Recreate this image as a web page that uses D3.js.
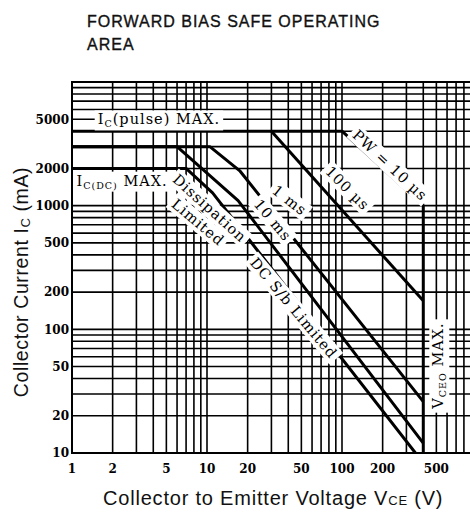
<!DOCTYPE html>
<html><head><meta charset="utf-8">
<script src="https://cdn.jsdelivr.net/npm/d3@7"></script>
<style>body{margin:0;background:#fff} svg{display:block}</style>
</head><body>
<svg id="c" width="470" height="512"></svg>
<script>
// ---- data (V in volts, I in mA) ----
const xTickLabels = [1,2,5,10,20,50,100,200,500];
const yTickLabels = [10,20,50,100,200,500,1000,2000,5000];
const curvePW10us  = [[1,4000],[100,4000],[400,1000],[400,10]];
const curvePW100us = [[30,4000],[400,170]];
const curvePW1ms   = [[1,3000],[10.5,3000],[17.6,1900],[400,26]];
const curvePW10ms  = [[1,3000],[6,3000],[17,1100],[400,12]];
const curveDC      = [[1,2000],[7,2000],[11,1270],[350,10]];
const noteTexts = [
  [["I",0],["C",1],["(pulse)  MAX.",0]],
  [["I",0],["C(DC)",1],[" MAX.",0]],
  [["Dissipation",0]],
  [["Limited",0]],
  [["DC  S/b  Limited",0]],
  [["1  ms",0]],
  [["10  ms",0]],
  [["100  µs",0]],
  [["PW = 10  µs",0]],
  [["V",0],["CEO",1],["  MAX.",0]]
];
const noteV = [1.55, 1.08, 10.5, 8.6, 44, 41, 30.8, 110, 227, 515];
const noteI = [5000, 1600, 955, 736, 149, 1109, 765, 1387, 2128, 51];
const noteRot = [0, 0, 42, 40, 50, 38, 50, 45, 43, -90];

// ---- drawing ----
const svg = d3.select("#c");
const x = d3.scaleLog().domain([1,1000]).range([72,477]);
const y = d3.scaleLog().domain([10,10000]).range([453,82]);

svg.append("defs").append("clipPath").attr("id","pa")
  .append("rect").attr("x",72).attr("y",81).attr("width",405).attr("height",372);

// title
svg.append("text").attr("x",87).attr("y",27)
  .attr("font-family","Liberation Sans, Arial, sans-serif").attr("font-size",16)
  .attr("letter-spacing",1).attr("fill","#111").attr("stroke","#111").attr("stroke-width",0.35)
  .text("FORWARD BIAS SAFE OPERATING");
svg.append("text").attr("x",87).attr("y",50)
  .attr("font-family","Liberation Sans, Arial, sans-serif").attr("font-size",16)
  .attr("letter-spacing",1).attr("fill","#111").attr("stroke","#111").attr("stroke-width",0.35)
  .text("AREA");

const plot = svg.append("g").attr("clip-path","url(#pa)");

// grid
plot.append("g").selectAll("line").data(x.ticks()).join("line")
  .attr("x1",d=>x(d)).attr("x2",d=>x(d)).attr("y1",y(10)).attr("y2",y(10000))
  .attr("stroke","#000").attr("stroke-width",1.6);
plot.append("g").selectAll("line").data(y.ticks()).join("line")
  .attr("y1",d=>y(d)).attr("y2",d=>y(d)).attr("x1",x(1)).attr("x2",x(1000))
  .attr("stroke","#000").attr("stroke-width",1.6);

// curves
const line = d3.line().x(d=>x(d[0])).y(d=>y(d[1]));
const curves = [curvePW10us, curvePW100us, curvePW1ms, curvePW10ms, curveDC];
plot.append("g").selectAll("path").data(curves).join("path")
  .attr("d",line).attr("fill","none").attr("stroke","#000")
  .attr("stroke-width",3).attr("stroke-linejoin","round");

// annotations with knockout boxes
noteTexts.forEach((parts,k)=>{
  const g = plot.append("g")
    .attr("transform",`translate(${x(noteV[k])},${y(noteI[k])}) rotate(${noteRot[k]})`);
  const anchor = (k<2) ? "start" : "middle";
  const tx = g.append("text").attr("text-anchor",anchor).attr("dy","0.36em")
    .attr("font-family","DejaVu Serif, serif").attr("font-size",14.5)
    .attr("letter-spacing",1).attr("fill","#000");
  let shifted = false;
  parts.forEach(([s,sub])=>{
    const ts = tx.append("tspan").text(s);
    if (sub) { ts.attr("font-size",9.5).attr("dy",3); shifted = true; }
    else if (shifted) { ts.attr("dy",-3); shifted = false; }
  });
  const b = tx.node().getBBox();
  g.insert("rect","text").attr("x",b.x-3).attr("y",b.y-1)
    .attr("width",b.width+6).attr("height",b.height+2).attr("fill","#fff");
});

// frame
svg.append("line").attr("x1",x(1)).attr("x2",x(1)).attr("y1",y(10000)-1).attr("y2",y(10)+1)
  .attr("stroke","#000").attr("stroke-width",2);
svg.append("line").attr("x1",x(1)).attr("x2",x(1000)).attr("y1",y(10)).attr("y2",y(10))
  .attr("stroke","#000").attr("stroke-width",2);
svg.append("line").attr("x1",x(1)).attr("x2",x(1000)).attr("y1",y(10000)).attr("y2",y(10000))
  .attr("stroke","#000").attr("stroke-width",2);

// tick labels
svg.append("g").selectAll("text").data(yTickLabels).join("text")
  .attr("x",x(1)-3).attr("y",d=>y(d)).attr("dy","0.36em").attr("text-anchor","end")
  .attr("font-family","DejaVu Serif, serif").attr("font-weight","bold").attr("font-size",12)
  .text(d=>d);
svg.append("g").selectAll("text").data(xTickLabels).join("text")
  .attr("x",d=>x(d)).attr("y",473).attr("text-anchor","middle")
  .attr("font-family","DejaVu Serif, serif").attr("font-weight","bold").attr("font-size",12)
  .text(d=>d);

// axis titles
const xt = svg.append("text").attr("x",103).attr("y",505)
  .attr("font-family","Liberation Sans, Arial, sans-serif").attr("font-size",20)
  .attr("letter-spacing",0.8).attr("fill","#111");
xt.append("tspan").text("Collector to Emitter Voltage  V");
xt.append("tspan").attr("font-size",13).text("CE");
xt.append("tspan").text("  (V)");

const yt = svg.append("text").attr("transform","translate(28,282) rotate(-90)")
  .attr("text-anchor","middle")
  .attr("font-family","Liberation Sans, Arial, sans-serif").attr("font-size",19.5)
  .attr("letter-spacing",0.6).attr("fill","#111");
yt.append("tspan").text("Collector Current  I");
yt.append("tspan").attr("font-size",13).attr("dy",2).text("C");
yt.append("tspan").attr("dy",-2).text("  (mA)");
</script>
</body></html>
